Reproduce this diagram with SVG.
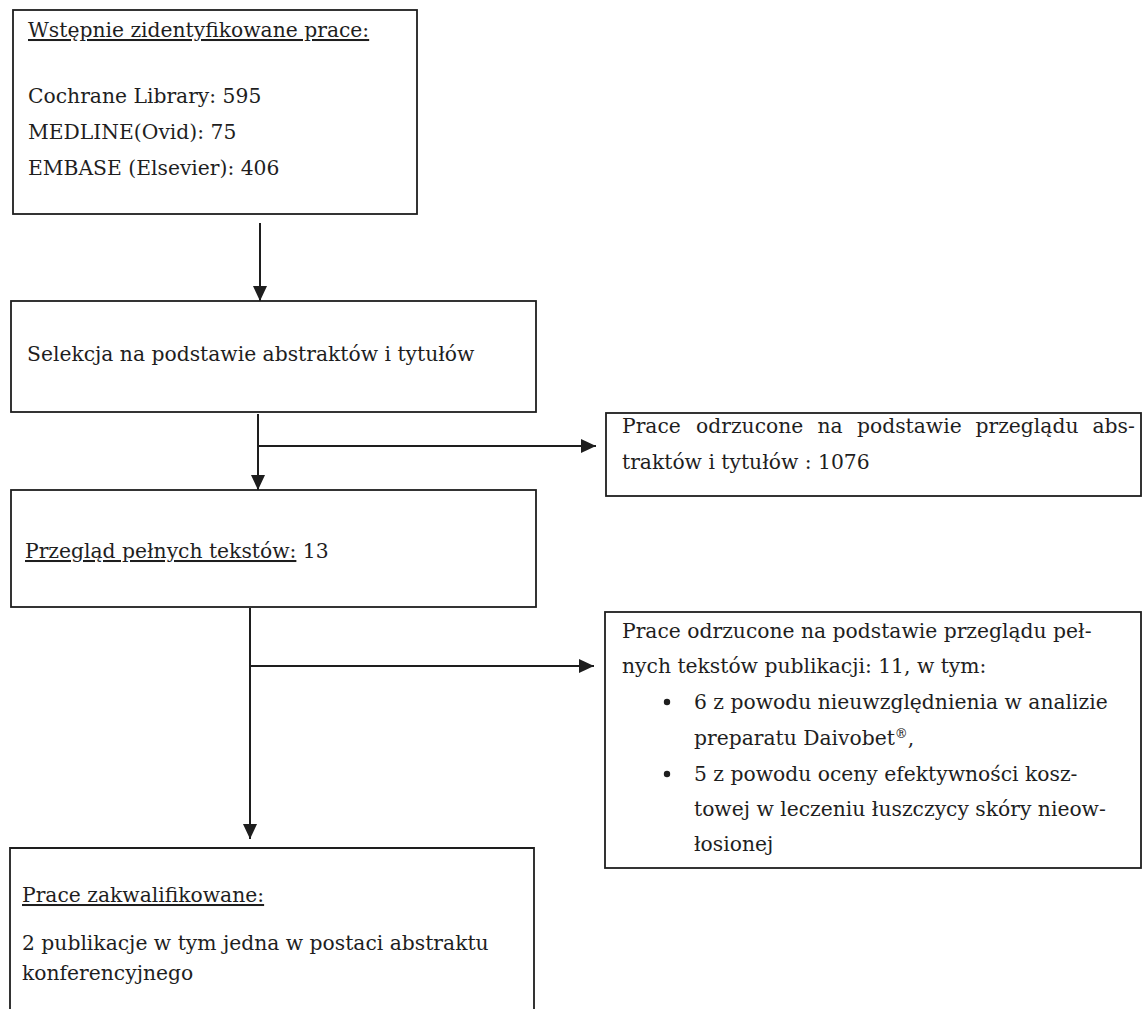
<svg xmlns="http://www.w3.org/2000/svg" width="1143" height="1009" viewBox="0 0 1143 1009">
  <defs>
    <marker id="arrow" viewBox="0 0 15 14" markerWidth="15" markerHeight="14" refX="15" refY="7" orient="auto" markerUnits="userSpaceOnUse">
      <path d="M0,0 L15,7 L0,14 z" fill="#1e1e1e"/>
    </marker>
    <style>
      .box { fill: none; stroke: #1e1e1e; stroke-width: 1.8; }
      .t { font-family: "DejaVu Serif", "Liberation Serif", serif; font-size: 20.3px; fill: #1e1e1e; }
      .u { text-decoration: underline; }
      .conn { fill: none; stroke: #1e1e1e; stroke-width: 2; }
    </style>
  </defs>
  <rect width="1143" height="1009" fill="#ffffff"/>

  <g id="node-identified">
    <rect class="box" x="13" y="10" width="404" height="204"/>
    <text class="t u" x="28" y="37">Wstępnie zidentyfikowane prace:</text>
    <text class="t" x="28" y="103">Cochrane Library: 595</text>
    <text class="t" x="28" y="139">MEDLINE(Ovid): 75</text>
    <text class="t" x="28" y="175">EMBASE (Elsevier): 406</text>
  </g>

  <g id="node-selection">
    <rect class="box" x="11" y="301" width="525" height="111"/>
    <text class="t" x="27" y="361">Selekcja na podstawie abstraktów i tytułów</text>
  </g>

  <g id="node-rejected-abstracts">
    <rect class="box" x="606" y="413" width="535" height="83"/>
    <text class="t" y="433"><tspan x="622">Prace</tspan><tspan x="696">odrzucone</tspan><tspan x="817.5">na</tspan><tspan x="857">podstawie</tspan><tspan x="975.5">przeglądu</tspan><tspan x="1092.5">abs-</tspan></text>
    <text class="t" x="622" y="469">traktów i tytułów : 1076</text>
  </g>

  <g id="node-fulltext">
    <rect class="box" x="11" y="490" width="525" height="117"/>
    <text class="t" x="25" y="558"><tspan class="u">Przegląd pełnych tekstów:</tspan> 13</text>
  </g>

  <g id="node-rejected-fulltext">
    <rect class="box" x="605" y="612" width="536" height="256"/>
    <text class="t" x="622" y="638">Prace odrzucone na podstawie przeglądu peł-</text>
    <text class="t" x="622" y="673">nych tekstów publikacji: 11, w tym:</text>
    <circle cx="667" cy="702" r="3.2" fill="#1e1e1e"/>
    <text class="t" x="694" y="709">6 z powodu nieuwzględnienia w analizie</text>
    <text class="t" x="694" y="745">preparatu Daivobet<tspan font-size="13" dy="-7">®</tspan><tspan dy="7">,</tspan></text>
    <circle cx="667" cy="774" r="3.2" fill="#1e1e1e"/>
    <text class="t" x="694" y="781">5 z powodu oceny efektywności kosz-</text>
    <text class="t" x="694" y="816">towej w leczeniu łuszczycy skóry nieow-</text>
    <text class="t" x="694" y="851">łosionej</text>
  </g>

  <g id="node-included">
    <path class="box" d="M10,1020 L10,848 L534,848 L534,1020"/>
    <text class="t u" x="22" y="902">Prace zakwalifikowane:</text>
    <text class="t" x="22" y="950">2 publikacje w tym jedna w postaci abstraktu</text>
    <text class="t" x="22" y="980">konferencyjnego</text>
  </g>

  <g id="connectors">
    <line class="conn" x1="260" y1="223" x2="260" y2="301" marker-end="url(#arrow)"/>
    <line class="conn" x1="258" y1="414" x2="258" y2="490" marker-end="url(#arrow)"/>
    <line class="conn" x1="258" y1="446" x2="596" y2="446" marker-end="url(#arrow)"/>
    <line class="conn" x1="250" y1="608" x2="250" y2="839" marker-end="url(#arrow)"/>
    <line class="conn" x1="250" y1="666" x2="594" y2="666" marker-end="url(#arrow)"/>
  </g>
</svg>
